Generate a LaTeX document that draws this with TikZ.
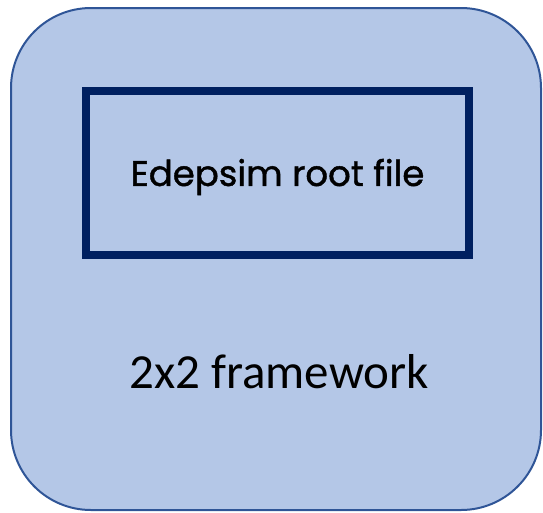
\documentclass[tikz,border=0pt]{standalone}
\usepackage{fontspec}
\setmainfont{Carlito}
\newfontfamily\handfont[FakeBold=1.2]{Poppins}
\definecolor{boxfill}{HTML}{B4C7E7}
\definecolor{boxline}{HTML}{2F5597}
\definecolor{innerline}{HTML}{002060}
\begin{document}
\begin{tikzpicture}[x=1pt,y=-1pt,
  outerbox/.style={draw=boxline,fill=boxfill,line width=2pt,rounded corners=80pt},
  innerbox/.style={draw=innerline,line width=7.5pt}]
\useasboundingbox (0,0) rectangle (543,512);
\draw[outerbox] (11,8) rectangle (541,510);
\node[innerbox,minimum width=383pt,minimum height=164pt,inner sep=0pt] (file) at (277.5,173) {};
\node[font=\handfont\fontsize{35.5}{38}\selectfont] (filetext) at (277.5,177) {Edepsim root file};
\node[font=\fontsize{49}{52}\selectfont] (frame) at (279,372) {2x2 framework};
\end{tikzpicture}
\end{document}
